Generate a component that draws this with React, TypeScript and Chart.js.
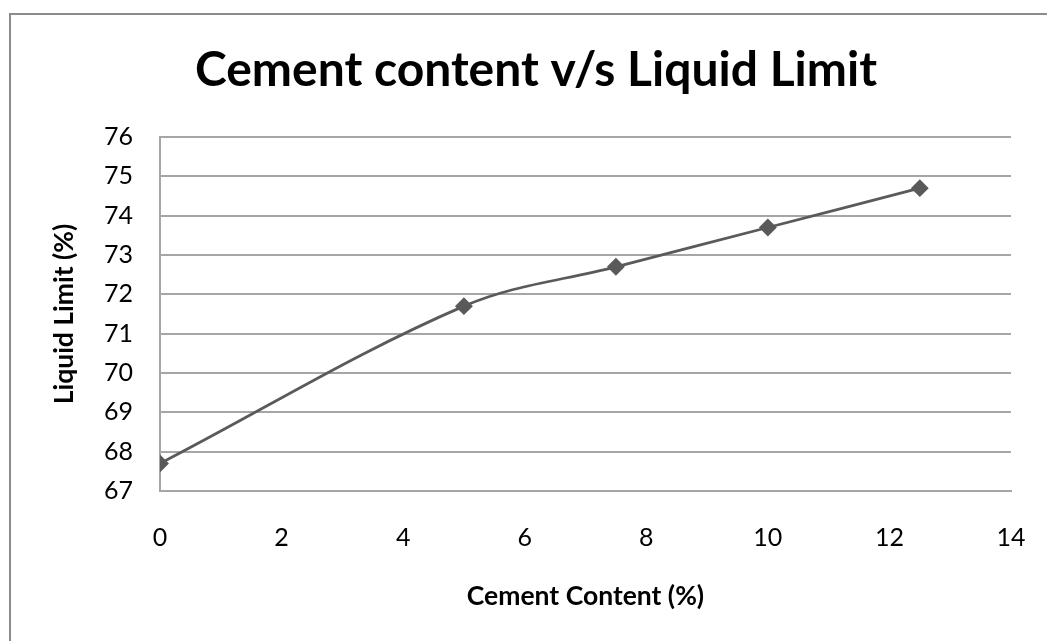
import React, { useEffect, useRef } from "react";
import { Chart, registerables } from "chart.js";

Chart.register(...registerables);

const titleText = "Cement content v/s Liquid Limit";
const xAxisTitle = "Cement Content (%)";
const yAxisTitle = "Liquid Limit (%)";
const cementContent = [0, 5, 7.5, 10, 12.5];
const liquidLimit = [67.7, 71.7, 72.7, 73.7, 74.7];
const xTicks = [0, 2, 4, 6, 8, 10, 12, 14];
const yTicks = [67, 68, 69, 70, 71, 72, 73, 74, 75, 76];

const FONT = "Lato, 'Open Sans', sans-serif";

const borderPlugin = {
  id: "outerBorder",
  afterLayout(chart: any) {
    if (chart.titleBlock) {
      chart.titleBlock.left = 25;
      chart.titleBlock.right = 1047;
    }
  },
  beforeDraw(chart: any) {
    const ctx = chart.ctx;
    ctx.save();
    ctx.fillStyle = "#ffffff";
    ctx.fillRect(0, 0, chart.width, chart.height);
    ctx.strokeStyle = "#8c8c8c";
    ctx.lineWidth = 2;
    ctx.strokeRect(10, 14, 1200, 800);
    ctx.restore();
  },
};

export default function App() {
  const ref = useRef<HTMLCanvasElement | null>(null);
  useEffect(() => {
    if (!ref.current) return;
    const chart = new Chart(ref.current, {
      type: "line",
      data: {
        datasets: [
          {
            data: cementContent.map((x, i) => ({ x, y: liquidLimit[i] })),
            borderColor: "#5a5a5a",
            backgroundColor: "#5a5a5a",
            borderWidth: 2.75,
            pointStyle: "rectRot",
            pointRadius: 7,
            pointHoverRadius: 7,
            tension: 0.35,
            fill: false,
          },
        ],
      },
      options: {
        animation: false,
        responsive: false,
        maintainAspectRatio: false,
        layout: { padding: { left: 0, right: 36, top: 0, bottom: 0 } },
        plugins: {
          legend: { display: false },
          tooltip: { enabled: false },
          title: {
            display: true,
            text: titleText,
            color: "#000000",
            font: { family: FONT, size: 48, weight: "bold", lineHeight: 1.2 },
            padding: { top: 42, bottom: 37.4 },
          },
        },
        scales: {
          x: {
            type: "linear",
            min: 0,
            max: 14,
            afterBuildTicks: (s: any) => {
              s.ticks = xTicks.map((v) => ({ value: v }));
            },
            afterFit: (s: any) => {
              s.height = 150;
              s.paddingLeft = 0;
              s.paddingRight = 0;
            },
            grid: { display: false, drawTicks: false },
            border: { display: true, color: "#a6a6a6", width: 2 },
            ticks: {
              color: "#000000",
              font: { family: FONT, size: 25 },
              padding: 32,
              maxRotation: 0,
            },
            title: {
              display: true,
              text: xAxisTitle,
              color: "#000000",
              font: { family: FONT, size: 26.5, weight: "bold", lineHeight: 1.2 },
              padding: { top: 0, bottom: 29 },
            },
          },
          y: {
            type: "linear",
            min: 67,
            max: 76,
            afterBuildTicks: (s: any) => {
              s.ticks = yTicks.map((v) => ({ value: v }));
            },
            afterFit: (s: any) => {
              s.width = 160;
              s.paddingTop = 0;
              s.paddingBottom = 0;
            },
            grid: { display: true, drawTicks: false, color: "#a6a6a6", lineWidth: 2 },
            border: { display: true, color: "#a6a6a6", width: 2 },
            ticks: {
              color: "#000000",
              font: { family: FONT, size: 25 },
              padding: 27,
            },
            title: {
              display: true,
              text: yAxisTitle,
              color: "#000000",
              font: { family: FONT, size: 26.5, weight: "bold", lineHeight: 1.2 },
              padding: { top: 49, bottom: 0 },
            },
          },
        },
      },
      plugins: [borderPlugin],
    });
    return () => chart.destroy();
  }, []);
  return (
    <canvas
      ref={ref}
      width={1047}
      height={641}
      style={{ position: "fixed", left: 0, top: 0, width: 1047, height: 641 }}
    />
  );
}
